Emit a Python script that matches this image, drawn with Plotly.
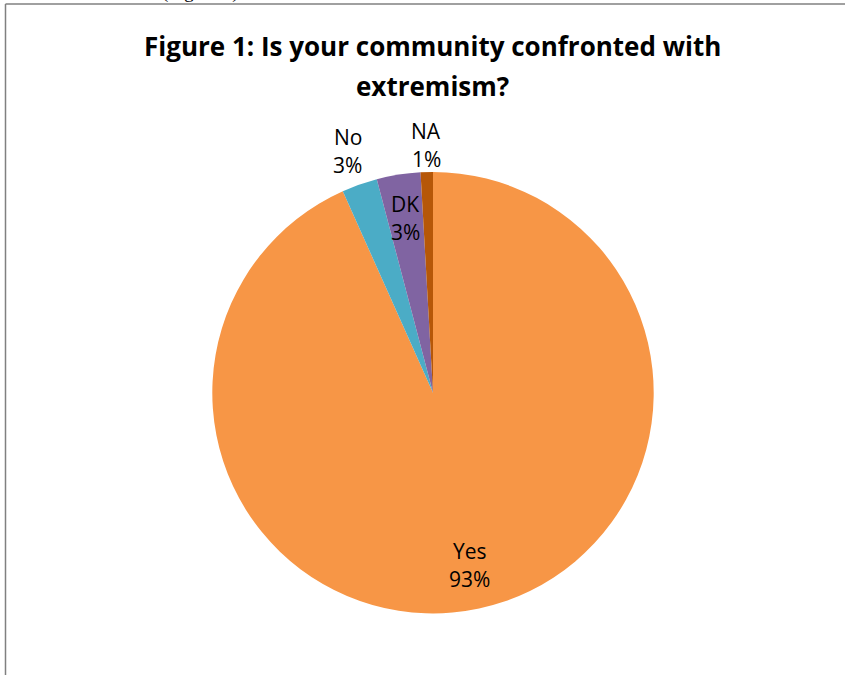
import math
import plotly.graph_objects as go

labels = ["Yes", "No", "DK", "NA"]
values = [93.3, 2.6, 3.2, 0.9]
colors = ["#F79646", "#4BACC6", "#8064A2", "#B65708"]
# radial placement of each data label, as a fraction of the pie radius
label_radius = [0.80, 1.159, 0.802, 1.121]

W, H = 845, 675
cx, cy, R = 433, 392.7, 220.7
FONT = "Open Sans"

fig = go.Figure(go.Pie(
    labels=labels,
    values=values,
    sort=False,
    direction="clockwise",
    rotation=0,
    marker=dict(colors=colors, line=dict(width=0)),
    textinfo="none",
    domain=dict(x=[(cx - R) / W, (cx + R) / W],
                y=[(H - cy - R) / H, (H - cy + R) / H]),
    showlegend=False,
    hoverinfo="label+percent",
))

annotations = []
total = sum(values)
cum = 0.0
for lab, v, f in zip(labels, values, label_radius):
    mid = (cum + v / 2) / total * 2 * math.pi
    cum += v
    px = cx + f * R * math.sin(mid)
    py = cy - f * R * math.cos(mid)
    pct = f"{round(v / total * 100):d}%"
    for txt, dy in ((lab, -14), (pct, 14)):
        annotations.append(dict(
            text=txt, x=px / W, y=1 - (py + dy) / H, xref="paper", yref="paper",
            xanchor="center", yanchor="middle", showarrow=False, borderpad=0,
            font=dict(family=FONT, size=21, color="#000000")))

# title (two lines)
for txt, yc in (("Figure 1: Is your community confronted with", 46), ("extremism?", 86)):
    annotations.append(dict(
        text=f"<b>{txt}</b>", x=432 / W, y=1 - yc / H, xref="paper", yref="paper",
        xanchor="center", yanchor="middle", showarrow=False, borderpad=0,
        font=dict(family=FONT, size=26, color="#000000")))

# caption of the page above the chart, cut off at the top edge
annotations.append(dict(
    text="(Figure 1)", x=200 / W, y=1 - 4 / H, xref="paper", yref="paper",
    xanchor="center", yanchor="bottom", showarrow=False, borderpad=0,
    font=dict(family="Liberation Serif", size=19, color="#000000")))

fig.update_layout(
    width=W, height=H,
    margin=dict(l=0, r=0, t=0, b=0),
    paper_bgcolor="white",
    shapes=[
        dict(type="line", xref="paper", yref="paper", x0=5.5 / W, x1=1.0, y0=1 - 4 / H, y1=1 - 4 / H,
             line=dict(color="#808080", width=1.5)),
        dict(type="line", xref="paper", yref="paper", x0=5.5 / W, x1=5.5 / W, y0=0, y1=1 - 4 / H,
             line=dict(color="#808080", width=1.5)),
    ],
    annotations=annotations,
)

fig.write_html("out.html")
